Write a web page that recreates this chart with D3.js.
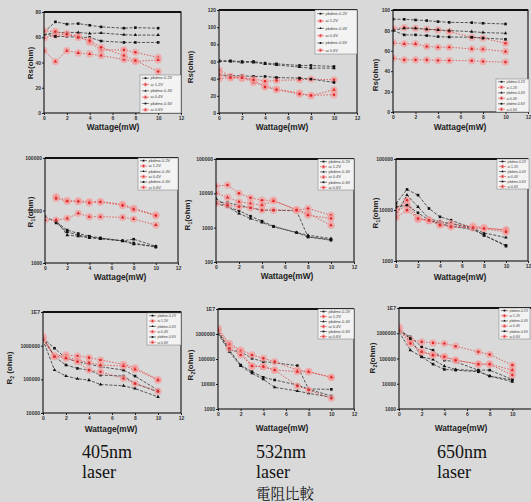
<!DOCTYPE html>
<html><head><meta charset="utf-8">
<script src="https://cdn.jsdelivr.net/npm/d3@7"></script>
<style>body{margin:0;background:#d9d9d9}svg{display:block}</style>
</head><body>
<script>
// ---------- DATA ----------
const wattage = [0, 1, 2, 3, 4, 5, 7, 8, 10];
const xTicks = [0, 2, 4, 6, 8, 10, 12];
const legendLabels = ["pbdme-0.2V", "ai 1.2V", "pbdme-0.4V", "ai 0.4V", "pbdme-0.6V", "ai 0.6V"];
const seriesColors = ["#111", "#e02828", "#111", "#e02828", "#111", "#e02828"];
const seriesShapes = ["square", "circle", "triangle", "triangle", "square", "circle"];

// order of each group: black1, red1, black2, red2, black3, red3
const rs405 = [
  [64, 72.2, 70.4, 70.8, 69.5, 68.2, 67.2, 67.6, 67.2],
  [59.3, 61.7, 62.5, 61.2, 55.9, 50, 50, 48.1, 44],
  [62, 63.8, 63.8, 63.8, 63, 63.4, 62, 61.7, 61.7],
  [49.4, 40.8, 49.4, 47.6, 46.8, 45.5, 42.4, 40.8, 42],
  [63, 60.6, 60.6, 59.9, 59.9, 57, 55.9, 55.9, 55.9],
  [65.1, 64.6, 62.5, 59.9, 57.3, 52, 45.5, 41.6, 32.9]
];
const rs532 = [
  [61, 60.8, 60, 60, 58.1, 57.3, 55.4, 55.4, 54.2],
  [40, 41.4, 40.6, 39.9, 36.8, 38, 38.7, 39.5, 38.7],
  [60, 60, 59, 59, 57, 56, 53.5, 52.3, 52.3],
  [50.3, 42.6, 41.4, 35.6, 31.7, 27.9, 23.2, 20.1, 27.1],
  [44.5, 43.4, 43.4, 42.6, 42.6, 41.4, 40.6, 39.5, 35.6],
  [45, 41, 41, 38.5, 30.2, 27.1, 22, 20.5, 21.3]
];
const rs650 = [
  [91, 90.9, 90.2, 89.6, 88.6, 87.9, 87.6, 87, 86.3],
  [82.1, 82.7, 82.1, 81.1, 80.5, 78.8, 73.3, 72.3, 67.4],
  [80, 82.1, 82.1, 81.1, 80.5, 79.8, 78.8, 77.9, 77.2],
  [68, 66.8, 66.8, 64.2, 63.5, 63.5, 61.9, 61.6, 59.3],
  [80, 75.6, 75.6, 74.9, 73.9, 73.5, 73.3, 72.5, 71.3],
  [52.8, 51.1, 51.1, 51.1, 50.5, 50.5, 50.2, 49.5, 48.9]
];
const r1_405 = [
  [7620, 6100, 4230, 3650, 3240, 3010, 2640, 2840, 2080],
  [null, 18400, 15400, 15200, 14800, 14800, 13100, 11000, 8200],
  [null, 6580, 3390, 3240, 3010, 2880, 2640, 2280, 2080],
  [6580, 6580, 7080, 8830, 7620, 7620, 7400, 6870, 5270],
  [null, 5800, 3900, 3390, 3120, 2950, 2640, 2400, 2000],
  [null, 17000, 15000, 14800, 14000, 14500, 12500, 10500, 8000]
];
const r1_532 = [
  [5680, 5300, 4530, 3790, 3240, 3240, 3100, 538, 450],
  [16300, 17400, 10000, 7430, 6300, 6300, 3230, 3630, 2300],
  [7100, 4060, 2590, 1850, 1410, 1060, 720, 602, 482],
  [10400, 7580, 5680, 5070, 4530, 6000, 3380, 2590, 1180],
  [5070, 4060, 3100, 2160, 1550, 1100, 720, 538, 430],
  [5070, 4530, 4060, 3790, 3240, 3240, 3240, 2310, 1850]
];
const r1_650 = [
  [13400, 25300, 19600, 10700, 7350, 6310, 4330, 3200, 2030],
  [10700, 15600, 6800, 6310, 5590, 5420, 4810, 4530, 4010],
  [7910, 19600, 11500, 6800, 5850, 5420, 4330, 3550, 2880],
  [9200, 12400, 6610, 6120, 5260, 4810, 4460, 4330, 4130],
  [11500, 12400, 8790, 6310, 5420, 4810, 4130, 3200, 1950],
  [7010, 9930, 6800, 6310, 5030, 4670, 4530, 4330, 3720]
];
const r2_405 = [
  [1.67e6, 838000, 421000, 334000, 285000, 237000, 188000, 125000, 47500],
  [1.87e6, 494000, 530000, 494000, 441000, 375000, 278000, 221000, 99000],
  [1.49e6, 188000, 125000, 104000, 94600, 70300, 64100, 53300, 30100],
  [1.67e6, 494000, 472000, 375000, 312000, 266000, 248000, 197000, 94600],
  [1.67e6, 472000, 266000, 211000, 188000, 134000, 125000, 75200, 42400],
  [1.49e6, 472000, 421000, 334000, 188000, 168000, 106000, 75200, 44400]
];
const r2_532 = [
  [1.24e6, 229000, 196000, 106000, 78200, 71300, 54100, 6120, 3310],
  [1.69e6, 424000, 229000, 145000, 106000, 78200, 36300, 31100, 18500],
  [1.06e6, 196000, 52500, 26700, 15400, 7360, 5250, 4240, 2930],
  [1.45e6, 363000, 196000, 52500, 49400, 36300, 31100, 31100, 18500],
  [1.24e6, 229000, 57500, 31100, 18500, 14500, 9120, 6310, 6120],
  [1.45e6, 267000, 145000, 52500, 49400, 36300, 8320, 5750, 2670]
];
const r2_650 = [
  [1.31e6, 716000, 289000, 213000, 85900, 73800, 34600, 34600, 14800],
  [1.78e6, 562000, 455000, 415000, 391000, 307000, 183000, 144000, 54500],
  [1.13e6, 213000, 116000, 91400, 49800, 36800, 32600, 20100, 12000],
  [1.53e6, 455000, 183000, 144000, 116000, 85900, 59700, 59700, 34600],
  [1.31e6, 615000, 116000, 59700, 36800, 34600, 29800, 20100, 14000],
  [1.31e6, 391000, 183000, 136000, 116000, 85900, 59700, 59700, 22000]
];
const rsTicks405 = [0, 20, 40, 60, 80];
const rsTicks532 = [0, 20, 40, 60, 80, 100, 120];
const rsTicks650 = [0, 20, 40, 60, 80, 100];
const logTicksR1a = [1000, 10000, 100000];
const logTicksR1b = [100, 1000, 10000, 100000];
const logTicksR2a = [10000, 100000, 1000000, 10000000];
const logTicksR2b = [1000, 10000, 100000, 1000000, 10000000];
const captionsTop = ["405nm", "532nm", "650nm"];
const captionsLaser = ["laser", "laser", "laser"];
const captionCJK = "電阻比較";

// ---------- LAYOUT ----------
const W = 531, H = 502;
const svg = d3.select("body").append("svg").attr("width", W).attr("height", H);
svg.append("rect").attr("width", W).attr("height", H).attr("fill", "#d9d9d9");

const logFmt = v => v === 1e7 ? "1E7" : String(v);
const panels = [
  {data: rs405, L: 44, R: 181, T: 12, B: 113, log: false, dom: [0, 80], ticks: rsTicks405, yt: "Rs(ohm)", ytx: 33, yty: 63, xtx: 113, xty: 130, leg: [140, 75, 41, 38]},
  {data: rs532, L: 219, R: 357, T: 10, B: 113, log: false, dom: [0, 120], ticks: rsTicks532, yt: "Rs(ohm)", ytx: 193, yty: 67, xtx: 282, xty: 130, leg: [315, 10, 42, 44]},
  {data: rs650, L: 393, R: 528, T: 10, B: 112, log: false, dom: [0, 100], ticks: rsTicks650, yt: "Rs(ohm)", ytx: 378, yty: 75, xtx: 460, xty: 130, leg: [496, 79, 33, 33]},
  {data: r1_405, L: 45, R: 178, T: 158, B: 263, log: true, dom: [1e3, 1e5], ticks: logTicksR1a, yt: "R", sub: "1", yt2: "(ohm)", ytx: 33, yty: 212, xtx: 120, xty: 280, leg: [138, 158, 40, 32]},
  {data: r1_532, L: 216, R: 354, T: 159, B: 262, log: true, dom: [1e2, 1e5], ticks: logTicksR1b, yt: "R", sub: "1", yt2: "(ohm)", ytx: 190, yty: 215, xtx: 287, xty: 279, leg: [318, 159, 36, 31]},
  {data: r1_650, L: 396, R: 528, T: 159, B: 261, log: true, dom: [1e3, 1e5], ticks: logTicksR1a, yt: "R", sub: "1", yt2: "(ohm)", ytx: 378, yty: 213, xtx: 460, xty: 280, leg: [497, 159, 32, 30]},
  {data: r2_405, L: 43, R: 181, T: 312, B: 413, log: true, dom: [1e4, 1e7], ticks: logTicksR2a, yt: "R", sub: "2", yt2: " (ohm)", ytx: 12, yty: 368, xtx: 111, xty: 432, leg: [147, 313, 34, 32]},
  {data: r2_532, L: 218, R: 354, T: 309, B: 409, log: true, dom: [1e3, 1e7], ticks: logTicksR2b, yt: "R", sub: "2", yt2: "(ohm)", ytx: 193, yty: 365, xtx: 282, xty: 431, leg: [318, 309, 36, 30]},
  {data: r2_650, L: 399, R: 535, T: 308, B: 409, log: true, dom: [1e3, 1e7], ticks: logTicksR2b, yt: "R", sub: "2", yt2: "(ohm)", ytx: 375, yty: 358, xtx: 461, xty: 431, leg: [499, 308, 31, 31]}
];

function marker(g, shape, color, x, y, s) {
  if (shape === "square") {
    g.append("rect").attr("x", x - s).attr("y", y - s).attr("width", 2 * s).attr("height", 2 * s).attr("fill", color);
  } else if (shape === "triangle") {
    g.append("path").attr("d", d3.symbol(d3.symbolTriangle, s * s * 3.2)()).attr("transform", `translate(${x},${y})`).attr("fill", color);
  } else {
    g.append("circle").attr("cx", x).attr("cy", y).attr("r", s).attr("fill", color);
  }
}

panels.forEach(p => {
  const g = svg.append("g");
  const x = d3.scaleLinear().domain([0, 12]).range([p.L, p.R]);
  const y = (p.log ? d3.scaleLog() : d3.scaleLinear()).domain(p.dom).range([p.B, p.T]);

  // axes
  const visibleX = xTicks.filter(t => x(t) <= W - 3);
  const xa = g.append("g").attr("transform", `translate(0,${p.B})`)
    .call(d3.axisBottom(x).tickValues(visibleX).tickSize(2).tickFormat(d3.format("d")));
  const ya = g.append("g").attr("transform", `translate(${p.L},0)`)
    .call(d3.axisLeft(y).tickValues(p.ticks).tickSize(2).tickFormat(p.log ? logFmt : d3.format("d")));
  [xa, ya].forEach(a => {
    a.select(".domain").remove();
    a.selectAll("line").attr("stroke", "#222");
    a.selectAll("text").attr("font-family", "Liberation Sans, Arial, sans-serif").attr("font-size", 5).attr("font-weight", "bold").attr("fill", "#333");
  });
  xa.selectAll("text").attr("dy", "0.75em").attr("y", 3);
  ya.selectAll("text").attr("x", -3);

  // series
  const clip = "c" + p.L + "_" + p.T;
  g.append("clipPath").attr("id", clip).append("rect").attr("x", p.L).attr("y", p.T).attr("width", p.R - p.L).attr("height", p.B - p.T);
  const sg = g.append("g").attr("clip-path", `url(#${clip})`);
  p.data.forEach((vals, i) => {
    const pts = wattage.map((w, j) => [w, vals[j]]).filter(d => d[1] != null);
    const red = i % 2 === 1;
    const line = d3.line().x(d => x(d[0])).y(d => y(d[1]));
    sg.append("path").attr("d", line(pts)).attr("fill", "none")
      .attr("stroke", red ? "#e04040" : "#333").attr("stroke-width", 0.8)
      .attr("stroke-dasharray", red ? "1.5,1.5" : "3,1.5");
    pts.forEach(d => {
      if (red) sg.append("circle").attr("cx", x(d[0])).attr("cy", y(d[1])).attr("r", 3.6).attr("fill", "#f2a0a0").attr("opacity", 0.75);
      marker(sg, seriesShapes[i], seriesColors[i], x(d[0]), y(d[1]), 1.3);
    });
  });

  // frame
  g.append("rect").attr("x", p.L).attr("y", p.T).attr("width", p.R - p.L).attr("height", p.B - p.T)
    .attr("fill", "none").attr("stroke", "#111").attr("stroke-width", 1.1);
  g.append("line").attr("x1", p.L).attr("x2", p.R).attr("y1", p.T).attr("y2", p.T).attr("stroke", "#111").attr("stroke-width", 1.8);

  // legend
  const [lx, ly, lw, lh] = p.leg;
  const lg = g.append("g");
  lg.append("rect").attr("x", lx).attr("y", ly).attr("width", lw).attr("height", lh).attr("fill", "#f3f3f3").attr("stroke", "#777").attr("stroke-width", 0.5);
  const rowH = lh / 6;
  const fs = lw < 35 ? 3.4 : 4;
  legendLabels.forEach((t, i) => {
    const cy = ly + rowH * (i + 0.5);
    const red = i % 2 === 1;
    lg.append("line").attr("x1", lx + 2).attr("x2", lx + 9).attr("y1", cy).attr("y2", cy)
      .attr("stroke", red ? "#e04040" : "#333").attr("stroke-width", 0.6);
    if (red) lg.append("circle").attr("cx", lx + 5.5).attr("cy", cy).attr("r", 2).attr("fill", "#f2a0a0");
    marker(lg, seriesShapes[i], seriesColors[i], lx + 5.5, cy, 0.9);
    lg.append("text").attr("x", lx + 10.5).attr("y", cy + 1.3).text(t)
      .attr("font-family", "Liberation Sans, Arial, sans-serif").attr("font-size", fs).attr("fill", "#444");
  });

  // titles
  const yt = g.append("text").attr("transform", `translate(${p.ytx},${p.yty}) rotate(-90)`)
    .attr("text-anchor", "middle").attr("font-family", "Liberation Sans, Arial, sans-serif")
    .attr("font-size", 8).attr("font-weight", "bold").attr("fill", "#222");
  if (p.sub) {
    yt.append("tspan").text(p.yt);
    yt.append("tspan").text(p.sub).attr("font-size", 5).attr("dy", 2);
    yt.append("tspan").text(p.yt2).attr("dy", -2);
  } else yt.text(p.yt);
  g.append("text").attr("x", p.xtx).attr("y", p.xty).attr("text-anchor", "middle")
    .attr("font-family", "Liberation Sans, Arial, sans-serif").attr("font-size", 8.3)
    .attr("font-weight", "bold").attr("fill", "#222").text("Wattage(mW)");
});

// captions
const capX = [82, 256, 437];
captionsTop.forEach((t, i) => {
  svg.append("text").attr("x", capX[i]).attr("y", 458).text(t)
    .attr("font-family", "Liberation Serif, Times New Roman, serif").attr("font-size", 18).attr("fill", "#111");
  svg.append("text").attr("x", capX[i]).attr("y", 477.5).text(captionsLaser[i])
    .attr("font-family", "Liberation Serif, Times New Roman, serif").attr("font-size", 18).attr("fill", "#111");
});
svg.append("text").attr("x", 256).attr("y", 499).text(captionCJK)
  .attr("font-family", "Noto Serif CJK TC, Noto Sans CJK TC, serif").attr("font-size", 14.5).attr("fill", "#111");
</script>
</body></html>
